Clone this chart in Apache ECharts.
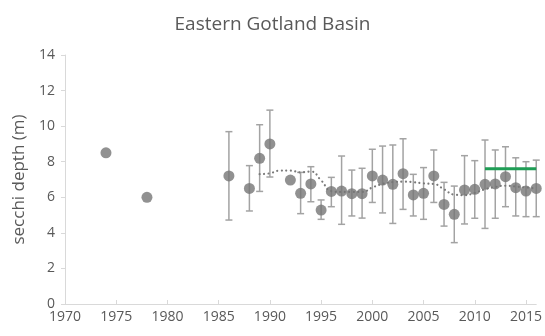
<!DOCTYPE html>
<html>
<head>
<meta charset="utf-8">
<script src="https://cdn.jsdelivr.net/npm/echarts@6/dist/echarts.min.js"></script>
<style>
  html, body { margin: 0; padding: 0; background: #fff; }
  #main { width: 545px; height: 336px; }
</style>
</head>
<body>
<div id="main"></div>
<script>
// yearly secchi depth means (m) with error bar limits (null = no bar)
var years  = [1974, 1978, 1986, 1988, 1989, 1990, 1992, 1993, 1994, 1995, 1996, 1997, 1998, 1999, 2000, 2001, 2002, 2003, 2004, 2005, 2006, 2007, 2008, 2009, 2010, 2011, 2012, 2013, 2014, 2015, 2016];
var depth  = [8.5, 6.0, 7.2, 6.5, 8.19, 9.0, 6.97, 6.22, 6.75, 5.28, 6.33, 6.35, 6.2, 6.2, 7.2, 6.97, 6.73, 7.33, 6.13, 6.22, 7.2, 5.6, 5.04, 6.41, 6.45, 6.73, 6.75, 7.16, 6.54, 6.35, 6.5];
var lowErr = [null, null, 4.72, 5.23, 6.33, 7.14, null, 5.08, 5.75, 4.76, 5.47, 4.48, 4.95, 4.83, 5.71, 5.12, 4.53, 5.32, 4.95, 4.76, 5.71, 4.38, 3.45, 4.5, 4.82, 4.25, 4.82, 5.47, 4.95, 4.91, 4.91];
var highErr = [null, null, 9.69, 7.78, 10.08, 10.9, null, 7.4, 7.72, 5.85, 7.12, 8.32, 7.53, 7.63, 8.7, 8.88, 8.94, 9.29, 7.29, 7.67, 8.66, 6.84, 6.63, 8.34, 8.06, 9.22, 8.66, 8.84, 8.22, 8.0, 8.09];

// smoothed trend (dotted)
var trendYears = [1989, 1990, 1991, 1992, 1993, 1994, 1995, 1996, 1997, 1998, 1999, 2000, 2001, 2002, 2003, 2004, 2005, 2006, 2007, 2008, 2009, 2010, 2011, 2012, 2013, 2014, 2015, 2016];
var trendVals  = [7.3, 7.35, 7.5, 7.5, 7.4, 7.45, 6.95, 6.35, 6.3, 6.3, 6.3, 6.55, 6.75, 6.85, 6.88, 6.85, 6.78, 6.75, 6.45, 6.15, 6.12, 6.25, 6.45, 6.58, 6.65, 6.6, 6.55, 6.5];

// target line
var targetYears = [2011, 2016];
var targetVals  = [7.6, 7.6];

var chart = echarts.init(document.getElementById('main'));

var pointData = years.map(function (y, i) { return [y, depth[i]]; });
var errData = [];
years.forEach(function (y, i) {
  if (lowErr[i] != null) errData.push([y, lowErr[i], highErr[i]]);
});

var textColor = '#595959';
var font = 'Open Sans';

chart.setOption({
  animation: false,
  title: {
    text: 'Eastern Gotland Basin',
    left: 'center',
    top: 10,
    textStyle: { fontFamily: font, fontSize: 19, fontWeight: 'normal', color: textColor }
  },
  grid: { left: 65, right: 7, top: 55, bottom: 32 },
  xAxis: {
    type: 'value',
    min: 1970,
    max: 2016,
    interval: 5,
    splitLine: { show: false },
    axisLine: { lineStyle: { color: '#d9d9d9', width: 1 } },
    axisTick: { inside: true, length: 4, lineStyle: { color: '#d9d9d9' } },
    axisLabel: {
      showMaxLabel: false,
      color: textColor, fontFamily: font, fontSize: 14, margin: 6,
      formatter: function (v) { return v % 5 === 0 ? String(v) : ''; }
    }
  },
  yAxis: {
    type: 'value',
    min: 0,
    max: 14,
    interval: 2,
    name: 'secchi depth (m)',
    nameLocation: 'middle',
    nameGap: 37,
    nameTextStyle: { fontFamily: font, fontSize: 17, color: textColor },
    splitLine: { show: false },
    axisLine: { show: true, lineStyle: { color: '#d9d9d9', width: 1 } },
    axisTick: { show: true, length: 4, lineStyle: { color: '#d9d9d9' } },
    axisLabel: { color: textColor, fontFamily: font, fontSize: 14, margin: 10 }
  },
  series: [
    {
      type: 'custom',
      clip: false,
      data: errData,
      renderItem: function (params, api) {
        var x = api.value(0);
        var lo = api.coord([x, api.value(1)]);
        var hi = api.coord([x, api.value(2)]);
        var w = 3.5;
        var style = { stroke: '#a3a3a3', lineWidth: 1.5 };
        return {
          type: 'group',
          children: [
            { type: 'line', shape: { x1: lo[0], y1: lo[1], x2: hi[0], y2: hi[1] }, style: style },
            { type: 'line', shape: { x1: lo[0] - w, y1: lo[1], x2: lo[0] + w, y2: lo[1] }, style: style },
            { type: 'line', shape: { x1: hi[0] - w, y1: hi[1], x2: hi[0] + w, y2: hi[1] }, style: style }
          ]
        };
      },
      z: 1
    },
    {
      type: 'line',
      data: trendYears.map(function (y, i) { return [y, trendVals[i]]; }),
      smooth: true,
      symbol: 'none',
      lineStyle: { color: '#7a7a7a', width: 2.2, type: [0.01, 4.5], cap: 'round' },
      z: 2
    },
    {
      type: 'line',
      data: targetYears.map(function (y, i) { return [y, targetVals[i]]; }),
      symbol: 'none',
      lineStyle: { color: '#1f9d55', width: 3 },
      z: 3
    },
    {
      type: 'scatter',
      data: pointData,
      clip: false,
      symbolSize: 11,
      itemStyle: { color: '#767676' },
      z: 4
    }
  ]
});
window.addEventListener('resize', chart.resize);
</script>
</body>
</html>
